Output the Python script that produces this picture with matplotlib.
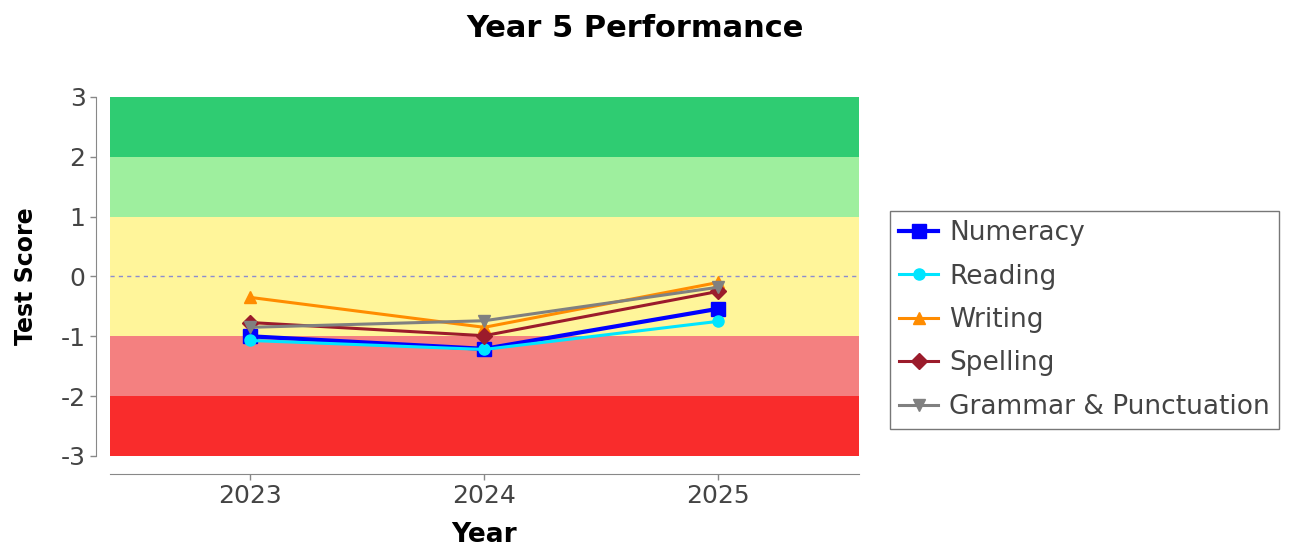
import matplotlib.pyplot as plt
from matplotlib.lines import Line2D

plt.rcParams['font.family'] = ['DejaVu Sans']
plt.rcParams['axes.unicode_minus'] = False

years = ["2023", "2024", "2025"]
numeracy = [-1.0, -1.21, -0.54]
reading = [-1.07, -1.22, -0.75]
writing = [-0.35, -0.85, -0.10]
spelling = [-0.77, -0.99, -0.25]
grammar = [-0.85, -0.74, -0.18]

# score bands: (low, high, colour)
band_low = [2, 1, -1, -2, -3]
band_high = [3, 2, 1, -1, -2]
band_colors = ["#2fcc72", "#9eef9e", "#fff59a", "#f48080", "#f92c2c"]

series = [
    ("Numeracy", numeracy, "#0000ff", "s", 3.0, 10),
    ("Reading", reading, "#00e5ff", "o", 2.2, 8),
    ("Writing", writing, "#ff8c00", "^", 2.2, 9),
    ("Spelling", spelling, "#9b1b2b", "D", 2.2, 8),
    ("Grammar & Punctuation", grammar, "#808080", "v", 2.2, 9),
]

fig = plt.figure(figsize=(12.93, 5.48), dpi=100)
ax = fig.add_axes([0.085, 0.168, 0.579, 0.655])

for lo, hi, c in zip(band_low, band_high, band_colors):
    ax.axhspan(lo, hi, color=c, lw=0, zorder=0)
ax.axhline(0, color="#8c8cd0", lw=1, ls=(0, (3, 3)), zorder=1)

x = list(range(len(years)))
for name, vals, col, mk, lw, ms in series:
    ax.plot(x, vals, color=col, lw=lw, marker=mk, ms=ms, label=name, zorder=3)

ax.set_xlim(-0.6, 2.6)
ax.set_ylim(-3, 3)
ax.set_xticks(x)
ax.set_xticklabels(years)
ax.set_yticks(range(-3, 4))

for s in ["top", "right"]:
    ax.spines[s].set_visible(False)
ax.spines["left"].set_position(("outward", 10))
ax.spines["bottom"].set_position(("outward", 13))
for s in ["left", "bottom"]:
    ax.spines[s].set_color("#888888")
ax.tick_params(axis="both", labelsize=18, colors="#888888", labelcolor="#444444",
               length=4, width=1)

ax.set_xlabel("Year", fontsize=19, fontweight="bold", labelpad=10)
ax.set_ylabel("Test Score", fontsize=17, fontweight="bold", labelpad=16)
fig.suptitle("Year 5 Performance", fontsize=22, fontweight="bold", x=0.491, y=0.975)

handles = [Line2D([], [], color=col, lw=lw, marker=mk, ms=ms)
           for _, _, col, mk, lw, ms in series]
leg = fig.legend(handles, [s[0] for s in series], loc="upper left",
                 bbox_to_anchor=(0.688, 0.615), fontsize=19, frameon=True,
                 fancybox=False, handlelength=1.5, handletextpad=0.4,
                 labelspacing=0.66, borderpad=0.35, borderaxespad=0)
leg.get_frame().set_edgecolor("#555555")
leg.get_frame().set_linewidth(1)
for t in leg.get_texts():
    t.set_color("#444444")

fig.savefig("out.png", dpi=100)
